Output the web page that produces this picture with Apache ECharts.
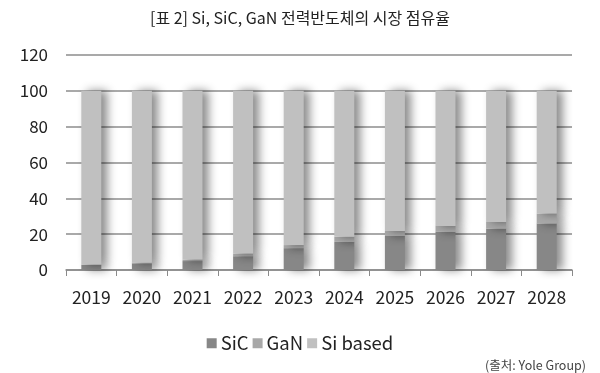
<!DOCTYPE html>
<html><head><meta charset="utf-8">
<script src="https://cdn.jsdelivr.net/npm/echarts@6/dist/echarts.min.js"></script>
<style>html,body{margin:0;padding:0;background:#fff}#c{width:600px;height:373px}</style>
</head><body><div id="c"></div>
<script>
const years = ['2019','2020','2021','2022','2023','2024','2025','2026','2027','2028'];
const sic = [2.8, 3.7, 5.0, 7.7, 12.2, 15.7, 19.0, 21.3, 23.1, 25.9];
const gan = [0.3, 0.4, 0.8, 1.5, 1.7, 2.8, 2.8, 3.3, 3.7, 5.6];
const siBased = [96.9, 95.9, 94.2, 90.8, 86.1, 81.5, 78.2, 75.4, 73.2, 68.5];
const yTicks = [0, 20, 40, 60, 80, 100, 120];

const FONT = '"Noto Sans CJK KR", "Noto Sans", sans-serif';
const shadow = {shadowColor:'rgba(0,0,0,0.45)', shadowBlur:10, shadowOffsetX:6, shadowOffsetY:0};
const chart = echarts.init(document.getElementById('c'));
chart.setOption({
  animation:false,
  textStyle:{fontFamily:FONT},
  title:[{text:'[표 2] Si, SiC, GaN 전력반도체의 시장 점유율', left:'center', top:5,
    textStyle:{fontFamily:FONT, fontSize:16, fontWeight:'normal', color:'#222'}},
    {text:'(출처: Yole Group)', right:9, top:354,
    textStyle:{fontFamily:FONT, fontSize:12.5, fontWeight:'normal', color:'#444'}}],
  legend:{left:'center', top:329, itemWidth:10, itemHeight:10, itemGap:4, icon:'rect',
    textStyle:{fontFamily:FONT, fontSize:18.5, color:'#222', padding:[0,0,0,-1]},
    data:['SiC','GaN','Si based']},
  grid:{left:66, right:28, top:55, bottom:103},
  xAxis:{type:'category', data:years,
    axisLine:{lineStyle:{color:'#8a8a8a', width:1.5}},
    axisTick:{show:true, length:6, lineStyle:{color:'#8a8a8a'}},
    axisLabel:{fontFamily:FONT, fontSize:17.5, color:'#222', margin:19}},
  yAxis:{type:'value', min:yTicks[0], max:yTicks[yTicks.length-1], interval:20,
    axisLine:{show:false}, axisTick:{show:false},
    axisLabel:{fontFamily:FONT, fontSize:17, color:'#222', margin:18},
    splitLine:{lineStyle:{color:'#8c8c8c', width:1.5}}},
  series:[
    {name:'SiC', type:'bar', stack:'s', data:sic, barWidth:20, itemStyle:Object.assign({color:'#878787'}, shadow)},
    {name:'GaN', type:'bar', stack:'s', data:gan, barWidth:20, itemStyle:Object.assign({color:'#a8a8a8'}, shadow)},
    {name:'Si based', type:'bar', stack:'s', data:siBased, barWidth:20, itemStyle:Object.assign({color:'#c0c0c0'}, shadow)}
  ]
});
</script></body></html>
